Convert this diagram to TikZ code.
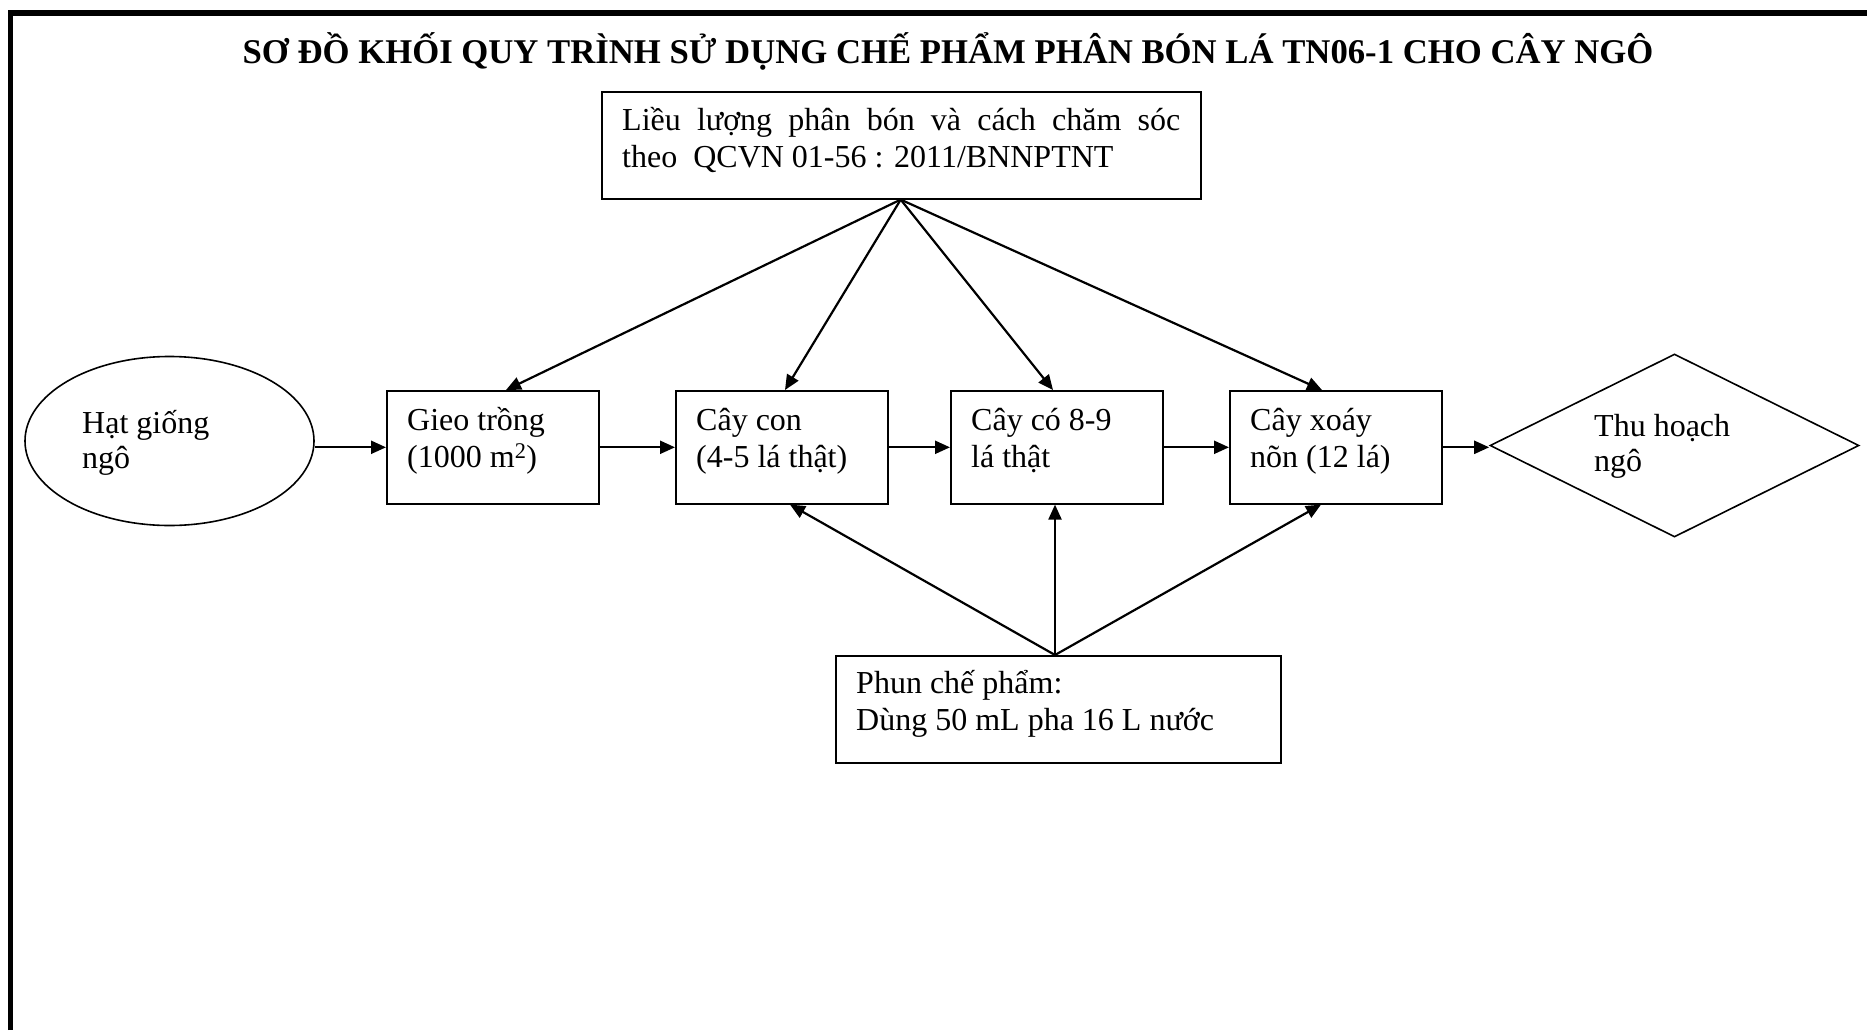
\documentclass[tikz,border=0pt]{standalone}
\usepackage{fontspec}
\setmainfont{Liberation Serif}
\usetikzlibrary{arrows.meta,shapes.geometric,calc}
% first line of every label gets a fixed height, so the node top sits 34pt above the first baseline
\newcommand{\fl}{\rule{0pt}{34pt}}
\begin{document}
\setlength{\lineskiplimit}{-100pt}
\begin{tikzpicture}[x=1pt,y=-1pt,
  stage/.style={draw, line width=1.6pt, rectangle, inner sep=0pt,
    minimum width=212pt, minimum height=113pt, anchor=north west},
  txt/.style={inner sep=0pt, anchor=north west, align=left,
    font=\fontsize{32}{37}\selectfont},
  txtb/.style={txt, font=\fontsize{32}{35}\selectfont},
  arr/.style={line width=2.2pt, -{Triangle[length=15pt,width=13pt]}},
]
\useasboundingbox (0,0) rectangle (1867,1030);

% page frame
\draw[line width=5.5pt, line join=miter] (10.5,1030) -- (10.5,13) -- (1867,13);

% title
\node[inner sep=0pt, anchor=base, font=\fontsize{34.7}{40}\selectfont\bfseries] (title) at (948,64)
  {SƠ ĐỒ KHỐI QUY TRÌNH SỬ DỤNG CHẾ PHẨM PHÂN BÓN LÁ TN06-1 CHO CÂY NGÔ};

% dose and care standard
\node[draw, line width=1.6pt, inner sep=0pt, minimum width=599pt, minimum height=107pt,
  anchor=north west] (std) at (601,91) {};
\node[txt] (stdt) at (622,96.7)
  {\fl\makebox[558pt][s]{Liều lượng phân bón và cách chăm sóc}\\theo\ \ QCVN 01-56 : 2011/BNNPTNT};

% seed
\node[draw, ellipse, line width=1.6pt, inner sep=0pt, minimum width=289pt, minimum height=169pt]
  (seed) at (169.5,441) {};
\node[txtb] (seedt) at (82,399) {\fl Hạt giống\\ngô};

% growth stages
\node[stage] (sow) at (386,390) {};
\node[txt] (sowt) at (407,396.7) {\fl Gieo trồng\\(1000 m\textsuperscript{2})};
\node[stage] (young) at (675,390) {};
\node[txt] (youngt) at (696,396.7) {\fl Cây con\\(4-5 lá thật)};
\node[stage] (eight) at (950,390) {};
\node[txt] (eightt) at (971,396.7) {\fl Cây có 8-9\\lá thật};
\node[stage] (cone) at (1229,390) {};
\node[txt] (conet) at (1250,396.7) {\fl Cây xoáy\\nõn (12 lá)};

% harvest
\node[draw, diamond, line width=1.6pt, inner sep=0pt, minimum width=369pt, minimum height=183pt]
  (harv) at (1674.5,445.5) {};
\node[txtb] (harvt) at (1594,402) {\fl Thu hoạch\\ngô};

% spraying
\node[draw, line width=1.6pt, inner sep=0pt, minimum width=445pt, minimum height=107pt,
  anchor=north west] (spray) at (835,655) {};
\node[txt] (sprayt) at (856,659.3) {\fl Phun chế phẩm:\\Dùng 50 mL pha 16 L nước};

% main flow
\draw[arr] (seed.east |- sow.west) -- (sow.west);
\draw[arr] (sow.east) -- (young.west);
\draw[arr] (young.east) -- (eight.west);
\draw[arr] (eight.east) -- (cone.west);
\draw[arr] (cone.east) -- (cone.east -| harv.west);

% standard applied at each stage
\coordinate (stdsrc) at ([xshift=299.7pt]std.south west);
\draw[arr] (stdsrc) -- ([xshift=120pt]sow.north west);
\draw[arr] (stdsrc) -- ([xshift=110pt]young.north west);
\draw[arr] (stdsrc) -- ([xshift=103pt]eight.north west);
\draw[arr] (stdsrc) -- ([xshift=93pt]cone.north west);

% spraying at three stages
\coordinate (spsrc) at ([xshift=220pt]spray.north west);
\draw[arr] (spsrc) -- ([xshift=115pt]young.south west);
\draw[arr] (spsrc) -- (spsrc |- eight.south);
\draw[arr] (spsrc) -- ([xshift=92pt]cone.south west);
\end{tikzpicture}
\end{document}
